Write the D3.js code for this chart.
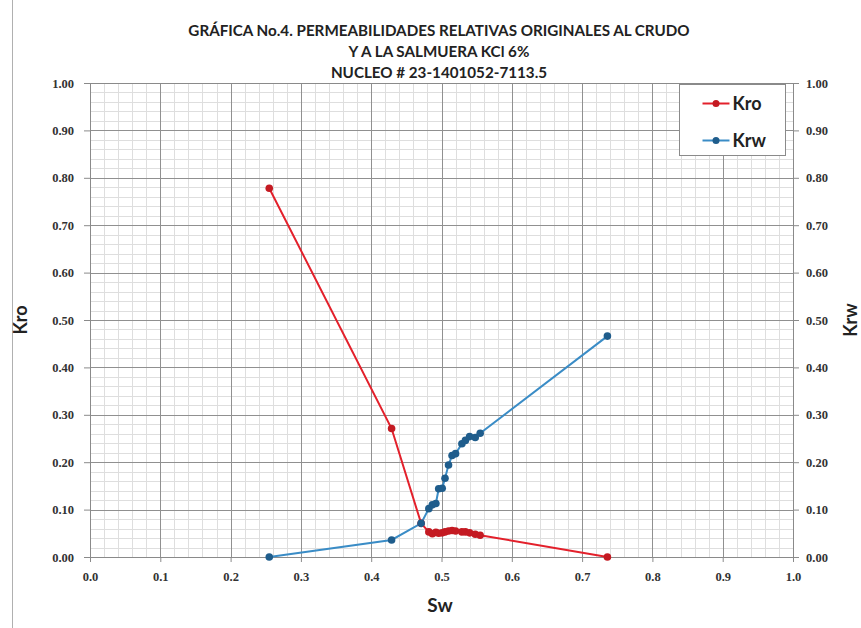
<!DOCTYPE html>
<html><head><meta charset="utf-8">
<script src="https://cdn.jsdelivr.net/npm/d3@7/dist/d3.min.js"></script>
<style>body{margin:0;background:#fff}svg{display:block}</style>
</head><body>
<svg id="c" width="861" height="628"></svg>
<script>
const titleLines = ["GRÁFICA No.4. PERMEABILIDADES RELATIVAS ORIGINALES AL CRUDO", "Y A LA SALMUERA KCl 6%", "NUCLEO # 23-1401052-7113.5"];
const sw  = [0.255, 0.429, 0.471, 0.482, 0.487, 0.492, 0.496, 0.501, 0.505, 0.510, 0.515, 0.520, 0.529, 0.534, 0.540, 0.548, 0.555, 0.736];
const kro = [0.778, 0.271, 0.071, 0.053, 0.049, 0.052, 0.050, 0.051, 0.053, 0.055, 0.056, 0.055, 0.053, 0.053, 0.051, 0.048, 0.046, 0.0];
const krw = [0.0, 0.036, 0.071, 0.102, 0.110, 0.113, 0.144, 0.145, 0.166, 0.194, 0.214, 0.218, 0.239, 0.246, 0.254, 0.252, 0.261, 0.466];
const xTicks = [0,0.1,0.2,0.3,0.4,0.5,0.6,0.7,0.8,0.9,1.0];
const yTicks = [0,0.1,0.2,0.3,0.4,0.5,0.6,0.7,0.8,0.9,1.0];
const seriesNames = ["Kro","Krw"];

const svg = d3.select("#c");
const m = {l:90, r:68, t:83, b:71};
const W = 861 - m.l - m.r, H = 628 - m.t - m.b;
const x = d3.scaleLinear().domain([0,1]).range([m.l, m.l+W]);
const y = d3.scaleLinear().domain([0,1]).range([m.t+H, m.t]);

// outer frame line
svg.append("line").attr("x1",12.5).attr("x2",12.5).attr("y1",0).attr("y2",628).attr("stroke","#b0b0b0").attr("stroke-width",1);

const g = svg.append("g");
const minor = d3.range(0, 1.0001, 0.02);
g.selectAll(".mv").data(minor).join("line")
  .attr("x1",d=>Math.round(x(d))+0.5).attr("x2",d=>Math.round(x(d))+0.5).attr("y1",y(0)).attr("y2",y(1))
  .attr("stroke","#dedede").attr("stroke-width",1);
g.selectAll(".mh").data(minor).join("line")
  .attr("y1",d=>Math.round(y(d))+0.5).attr("y2",d=>Math.round(y(d))+0.5).attr("x1",x(0)).attr("x2",x(1))
  .attr("stroke","#dedede").attr("stroke-width",1);
g.selectAll(".Mv").data(xTicks).join("line")
  .attr("x1",d=>Math.round(x(d))+0.5).attr("x2",d=>Math.round(x(d))+0.5).attr("y1",y(0)).attr("y2",y(1))
  .attr("stroke","#909090").attr("stroke-width",1);
g.selectAll(".Mh").data(yTicks).join("line")
  .attr("y1",d=>Math.round(y(d))+0.5).attr("y2",d=>Math.round(y(d))+0.5).attr("x1",x(0)).attr("x2",x(1))
  .attr("stroke","#909090").attr("stroke-width",1);

// axes
const tickFont = "'Liberation Serif', serif";
const ax = svg.append("g").attr("transform",`translate(0,${y(0)})`)
  .call(d3.axisBottom(x).tickValues(xTicks).tickFormat(d3.format(".1f")).tickSize(5).tickPadding(10));
const al = svg.append("g").attr("transform",`translate(${x(0)},0)`)
  .call(d3.axisLeft(y).tickValues(yTicks).tickFormat(d3.format(".2f")).tickSize(6).tickPadding(10));
const ar = svg.append("g").attr("transform",`translate(${x(1)},0)`)
  .call(d3.axisRight(y).tickValues(yTicks).tickFormat(d3.format(".2f")).tickSize(6).tickPadding(7));
[ax,al,ar].forEach(a=>{
  a.selectAll("path").attr("stroke","#8a8a8a");
  a.selectAll("line").attr("stroke","#8a8a8a");
  a.selectAll("text").attr("font-family",tickFont).attr("font-weight","bold").attr("font-size","12.5px").attr("fill","#333");
});
svg.append("line").attr("x1",x(0)).attr("x2",x(1)).attr("y1",y(1)+0.5).attr("y2",y(1)+0.5).attr("stroke","#8a8a8a");

// series
const redLine="#e3202b", redMark="#c41a22", blueLine="#3a8cc6", blueMark="#1f5d8c";
const line = d3.line().x(d=>x(d[0])).y(d=>y(d[1]));
const dKro = sw.map((s,i)=>[s,kro[i]]);
const dKrw = sw.map((s,i)=>[s,krw[i]]);
svg.append("path").datum(dKro).attr("d",line).attr("fill","none").attr("stroke",redLine).attr("stroke-width",2);
svg.append("path").datum(dKrw).attr("d",line).attr("fill","none").attr("stroke",blueLine).attr("stroke-width",2);
svg.selectAll(".pk").data(dKro).join("circle").attr("cx",d=>x(d[0])).attr("cy",d=>y(d[1])).attr("r",3.8).attr("fill",redMark);
svg.selectAll(".pw").data(dKrw).join("circle").attr("cx",d=>x(d[0])).attr("cy",d=>y(d[1])).attr("r",3.8).attr("fill",blueMark);

// titles
const tf = "Lato, 'Open Sans', sans-serif";
svg.selectAll(".tl").data(titleLines).join("text")
  .attr("x",439).attr("y",(d,i)=>36+i*21).attr("text-anchor","middle")
  .attr("font-family",tf).attr("font-weight","bold").attr("font-size","15.2px").attr("fill","#222").text(d=>d);
svg.append("text").attr("x",440).attr("y",612).attr("text-anchor","middle")
  .attr("font-family",tf).attr("font-weight","bold").attr("font-size","19px").attr("fill","#222").text("Sw");
svg.append("text").attr("transform","translate(27,320) rotate(-90)").attr("text-anchor","middle")
  .attr("font-family",tf).attr("font-weight","bold").attr("font-size","18px").attr("fill","#222").text(seriesNames[0]);
svg.append("text").attr("transform","translate(857,320) rotate(-90)").attr("text-anchor","middle")
  .attr("font-family",tf).attr("font-weight","bold").attr("font-size","18px").attr("fill","#222").text(seriesNames[1]);

// legend
const lg = svg.append("g").attr("transform","translate(679.5,84.5)");
lg.append("rect").attr("width",106).attr("height",71).attr("fill","#fff").attr("stroke","#8a8a8a");
const lc = [[redLine,redMark],[blueLine,blueMark]];
seriesNames.forEach((n,i)=>{
  const yy = 19 + i*37;
  lg.append("line").attr("x1",23).attr("x2",50).attr("y1",yy).attr("y2",yy).attr("stroke",lc[i][0]).attr("stroke-width",2);
  lg.append("circle").attr("cx",36.5).attr("cy",yy).attr("r",3.5).attr("fill",lc[i][1]);
  lg.append("text").attr("x",53).attr("y",yy+6).attr("font-family",tf).attr("font-weight","bold").attr("font-size","18px").attr("fill","#222").text(n);
});
</script>
</body></html>
